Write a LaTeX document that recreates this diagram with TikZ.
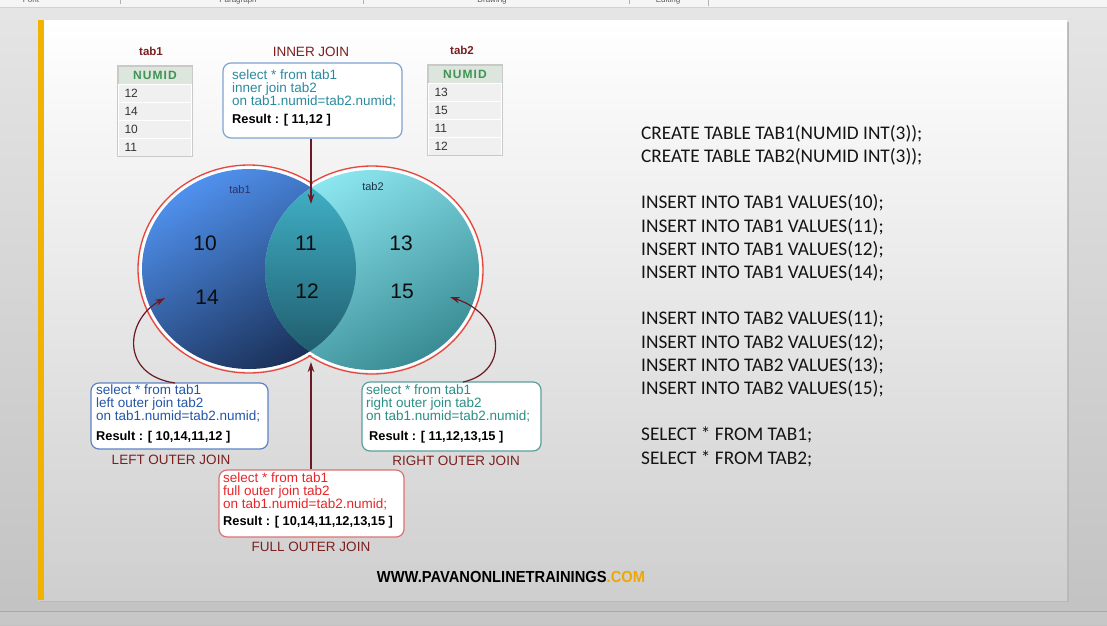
\documentclass[tikz,border=0pt]{standalone}
\usepackage{fontspec}
\setmainfont{Liberation Sans}
\newfontfamily\sqlfont{Carlito}
\newfontfamily\spacedfont[LetterSpace=9]{Liberation Sans}
\usetikzlibrary{arrows.meta,shapes.geometric}
\definecolor{titlered}{HTML}{7B1F1F}
\definecolor{arrowred}{HTML}{6A1A22}
\definecolor{hdrgreen}{HTML}{3F9455}
\definecolor{hdrfill}{HTML}{DCE6DC}
\definecolor{rowfill}{HTML}{F0F0F0}
\definecolor{tblborder}{HTML}{C9C9C9}
\definecolor{innerborder}{HTML}{7FA3D0}
\definecolor{innertext}{HTML}{2B8AA0}
\definecolor{leftborder}{HTML}{5B82C6}
\definecolor{lefttext}{HTML}{2356A8}
\definecolor{rightborder}{HTML}{5A9E9E}
\definecolor{righttext}{HTML}{2A8F86}
\definecolor{fullborder}{HTML}{E07070}
\definecolor{fulltext}{HTML}{E8262A}
\definecolor{venred}{HTML}{E8463C}
\definecolor{slidebar}{HTML}{F2B200}
\definecolor{webor}{HTML}{F0A800}
\begin{document}
\begin{tikzpicture}[x=1pt,y=-1pt,
  title/.style={text=titlered,font=\fontsize{13.5}{13.5}\selectfont,inner sep=0pt},
  hdr/.style={fill=hdrfill,draw=tblborder,line width=0.6pt,minimum width=74pt,minimum height=18pt,inner sep=0pt,
    font=\spacedfont\bfseries\fontsize{12}{12}\selectfont,text=hdrgreen},
  cell/.style={fill=rowfill,draw=white,line width=1pt,minimum width=73pt,minimum height=18pt,inner sep=0pt,
    text width=61pt,align=left,font=\fontsize{12}{12}\selectfont,text=black!80},
  num/.style={font=\fontsize{21}{21}\selectfont,text=black!95,inner sep=0pt},
  vlabel/.style={font=\fontsize{11}{11}\selectfont,inner sep=0pt},
  box/.style={draw,rounded corners=8pt,line width=1.2pt,fill=white,inner sep=0pt},
  boxtext/.style={anchor=base west,align=left,inner sep=0pt,font=\fontsize{13.5}{12.5}\selectfont},
  arr/.style={draw=arrowred,line width=1.2pt,-{Stealth[length=10pt,width=6.5pt]}},
  sql/.style={anchor=base west,align=left,inner sep=0pt,font=\sqlfont\fontsize{19.3}{23.2}\selectfont,text=black!92},
  bar/.style={inner sep=0pt,font=\fontsize{8}{8}\selectfont,text=black!65}
]
\useasboundingbox (0,0) rectangle (1107,625);
% window background
\shade[top color=black!10,bottom color=black!24] (0,0) rectangle (1107,625);
\fill[black!4] (0,0) rectangle (1107,7);
\draw[black!18,line width=0.8pt] (0,7.5) -- (1107,7.5);
\node[bar,anchor=base] (tbfont) at (31,2.5) {Font};
\node[bar,anchor=base] (tbpara) at (238,2.5) {Paragraph};
\node[bar,anchor=base] (tbdraw) at (492,2.5) {Drawing};
\node[bar,anchor=base] (tbedit) at (668,2.5) {Editing};
\draw[black!30] (120,0) -- (120,4) (363,0) -- (363,4) (629,0) -- (629,4) (708,0) -- (708,6);
\fill[black!22] (0,611) rectangle (1107,625);
\draw[black!34,line width=0.8pt] (0,611) -- (1107,611);
% slide
\fill[black!28] (39.5,21.5) rectangle (1068.5,601.5);
\shade[top color=white,middle color=black!3,bottom color=black!19] (38,20) rectangle (1067,600);
\fill[slidebar] (38,20) rectangle (44,600);

% titles
\node[title] (t1) at (151,51) {\bfseries\fontsize{11.5}{11.5}\selectfont tab1};
\node[title] (t2) at (462,50) {\bfseries\fontsize{11.5}{11.5}\selectfont tab2};
\node[title] (ij) at (311,52) {INNER JOIN};

% table 1
\node[hdr] (h1) at (155,75) {NUMID};
\node[cell] (r11) at (155,93) {12};
\node[cell] (r12) at (155,111) {14};
\node[cell] (r13) at (155,129) {10};
\node[cell] (r14) at (155,147) {11};
\draw[tblborder,line width=0.6pt] (h1.north west) rectangle (r14.south east -| h1.east);
% table 2
\node[hdr] (h2) at (465,74) {NUMID};
\node[cell] (r21) at (465,92) {13};
\node[cell] (r22) at (465,110) {15};
\node[cell] (r23) at (465,128) {11};
\node[cell] (r24) at (465,146) {12};
\draw[tblborder,line width=0.6pt] (h2.north west) rectangle (r24.south east -| h2.east);

% venn
\draw[venred,line width=1.3pt] (249,269) ellipse [x radius=111pt,y radius=104pt];
\draw[venred,line width=1.3pt] (372,270) ellipse [x radius=111pt,y radius=104pt];
\fill[white] (249,269) ellipse [x radius=109.6pt,y radius=102.6pt];
\fill[white] (372,270) ellipse [x radius=109.6pt,y radius=102.6pt];
\shade[top color={rgb,255:red,80;green,145;blue,238},bottom color={rgb,255:red,26;green,48;blue,88},shading angle=30]
  (249,269) ellipse [x radius=107pt,y radius=100pt];
\shade[top color={rgb,255:red,140;green,230;blue,240},bottom color={rgb,255:red,58;green,140;blue,148},shading angle=30]
  (372,270) ellipse [x radius=107pt,y radius=100pt];
\begin{scope}
  \clip (249,269) ellipse [x radius=107pt,y radius=100pt];
  \shade[top color={rgb,255:red,68;green,184;blue,206},bottom color={rgb,255:red,28;green,84;blue,100}]
    (372,270) ellipse [x radius=107pt,y radius=100pt];
\end{scope}
\node[vlabel,text={rgb,255:red,50;green,50;blue,100}] (v1) at (240,190) {tab1};
\node[vlabel,text={rgb,255:red,30;green,50;blue,70}] (v2) at (373,187) {tab2};
\node[num] (n10) at (205,243) {10};
\node[num] (n14) at (207,297) {14};
\node[num] (n11) at (306,243) {11};
\node[num] (n12) at (307,291) {12};
\node[num] (n13) at (401,243) {13};
\node[num] (n15) at (402,291) {15};

% inner join box
\node[box,draw=innerborder,minimum width=179pt,minimum height=75pt] (inner) at (312.5,100.5) {};
\node[boxtext,text=innertext] (innertxt) at (232,123.7)
  {select * from tab1\\inner join tab2\\on tab1.numid=tab2.numid;\\[5.5pt]
   \textcolor{black}{\bfseries\fontsize{12.8}{12.8}\selectfont Result : [ 11,12 ]}};
% left outer join
\node[box,draw=leftborder,minimum width=177pt,minimum height=66pt] (lbox) at (179.5,416) {};
\node[boxtext,text=lefttext] (ltxt) at (96,440.7)
  {select * from tab1\\left outer join tab2\\on tab1.numid=tab2.numid;\\[7.5pt]
   \textcolor{black}{\bfseries\fontsize{12.8}{12.8}\selectfont Result : [ 10,14,11,12 ]}};
\node[title] (lj) at (171,460) {LEFT OUTER JOIN};
% right outer join
\node[box,draw=rightborder,minimum width=179pt,minimum height=69pt] (rbox) at (451.5,416.5) {};
\node[boxtext,text=righttext] (rtxt) at (366,440.7)
  {select * from tab1\\right outer join tab2\\on tab1.numid=tab2.numid;\\[7.5pt]
   \hspace*{3pt}\textcolor{black}{\bfseries\fontsize{12.8}{12.8}\selectfont Result : [ 11,12,13,15 ]}};
\node[title] (rj) at (456,461) {RIGHT OUTER JOIN};
% full outer join
\node[box,draw=fullborder,minimum width=185pt,minimum height=67pt] (full) at (311.5,503.5) {};
\node[boxtext,text=fulltext] (ftxt) at (223,525.7)
  {select * from tab1\\full outer join tab2\\on tab1.numid=tab2.numid;\\[4.5pt]
   \textcolor{black}{\bfseries\fontsize{12.8}{12.8}\selectfont Result : [ 10,14,11,12,13,15 ]}};
\node[title] (fj) at (311,547) {FULL OUTER JOIN};

% connectors
\coordinate (ijend) at (311,204);
\coordinate (fjend) at (311,362);
\coordinate (lstart) at (175,383);
\coordinate (lend) at (165,298);
\coordinate (rstart) at (463,382);
\coordinate (rend) at (450,297);
\draw[arr] (inner.south -| ijend) -- (ijend);
\draw[arr] (full.north -| fjend) -- (fjend);
\draw[arr] (lstart) .. controls (120,375) and (125,320) .. (lend);
\draw[arr] (rstart) .. controls (510,372) and (505,315) .. (rend);

% website
\node[inner sep=0pt] (web) at (511,577)
  {\scalebox{0.92}[1]{\bfseries\fontsize{16}{16}\selectfont WWW.PAVANONLINETRAININGS\textcolor{webor}{.COM}}};

% SQL text
\node[sql] (sqltext) at (641,464)
  {CREATE TABLE TAB1(NUMID INT(3));\\
   CREATE TABLE TAB2(NUMID INT(3));\\[23.2pt]
   INSERT INTO TAB1 VALUES(10);\\
   INSERT INTO TAB1 VALUES(11);\\
   INSERT INTO TAB1 VALUES(12);\\
   INSERT INTO TAB1 VALUES(14);\\[23.2pt]
   INSERT INTO TAB2 VALUES(11);\\
   INSERT INTO TAB2 VALUES(12);\\
   INSERT INTO TAB2 VALUES(13);\\
   INSERT INTO TAB2 VALUES(15);\\[23.2pt]
   SELECT * FROM TAB1;\\
   SELECT * FROM TAB2;};
\end{tikzpicture}
\end{document}
